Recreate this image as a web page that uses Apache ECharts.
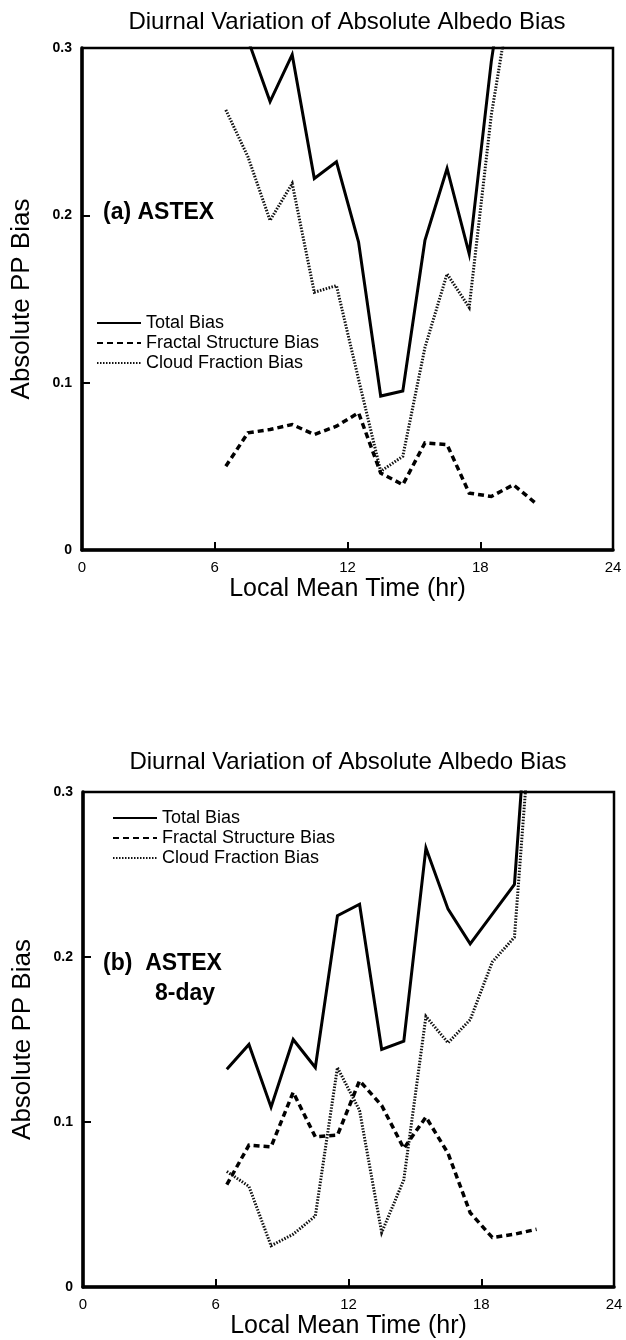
<!DOCTYPE html>
<html>
<head>
<meta charset="utf-8">
<title>Diurnal Variation of Absolute Albedo Bias</title>
<script src="https://cdn.jsdelivr.net/npm/echarts@6/dist/echarts.min.js"></script>
<style>
  html, body { margin: 0; padding: 0; background: #fff; }
  #chart { width: 626px; height: 1340px; }
</style>
</head>
<body>
<div id="chart"></div>
<script>
// local mean time of each sample (hr)
var hours = [6.5, 7.5, 8.5, 9.5, 10.5, 11.5, 12.5, 13.5, 14.5, 15.5, 16.5, 17.5, 18.5, 19.5, 20.5];

// (a) ASTEX
var totalA   = [0.315, 0.305, 0.268, 0.296, 0.222, 0.232, 0.184, 0.092, 0.095, 0.185, 0.228, 0.177, 0.292, 0.380, 0.430];
var fractalA = [0.050, 0.070, 0.072, 0.075, 0.069, 0.074, 0.082, 0.046, 0.039, 0.064, 0.063, 0.034, 0.032, 0.039, 0.028];
var cloudA   = [0.263, 0.235, 0.197, 0.219, 0.154, 0.158, 0.102, 0.047, 0.056, 0.121, 0.165, 0.145, 0.260, 0.340, 0.400];

// (b) ASTEX 8-day
var totalB   = [0.132, 0.147, 0.109, 0.150, 0.133, 0.225, 0.232, 0.144, 0.149, 0.266, 0.229, 0.208, 0.226, 0.244, 0.430];
var fractalB = [0.062, 0.086, 0.085, 0.118, 0.091, 0.092, 0.125, 0.110, 0.084, 0.103, 0.081, 0.045, 0.030, 0.032, 0.035];
var cloudB   = [0.070, 0.061, 0.025, 0.032, 0.043, 0.133, 0.107, 0.033, 0.065, 0.164, 0.148, 0.162, 0.197, 0.212, 0.390];

var xTicks = [0, 6, 12, 18, 24];
var yTicks = [0, 0.1, 0.2, 0.3];
var names = ['Total Bias', 'Fractal Structure Bias', 'Cloud Fraction Bias'];

var FONT = '"Liberation Sans", Arial, Helvetica, sans-serif';

function pairs(ys) {
    return hours.map(function (h, i) { return [h, ys[i]]; });
}

function xAxisFor(idx) {
    return {
        gridIndex: idx,
        type: 'value',
        min: xTicks[0],
        max: xTicks[xTicks.length - 1],
        interval: xTicks[1] - xTicks[0],
        name: 'Local Mean Time (hr)',
        nameLocation: 'middle',
        nameGap: 27,
        nameTextStyle: { fontFamily: FONT, fontSize: 25, color: '#000' },
        axisLine: { lineStyle: { color: '#000', width: 3.5 } },
        axisTick: { inside: true, length: 8, lineStyle: { color: '#000', width: 2 } },
        axisLabel: { fontFamily: FONT, fontSize: 15, color: '#000', margin: 10 },
        splitLine: { show: false }
    };
}

function yAxisFor(idx) {
    return {
        gridIndex: idx,
        type: 'value',
        min: yTicks[0],
        max: yTicks[yTicks.length - 1],
        interval: yTicks[1] - yTicks[0],
        name: 'Absolute PP Bias',
        nameLocation: 'middle',
        nameGap: 47,
        nameTextStyle: { fontFamily: FONT, fontSize: 26, color: '#000' },
        axisLine: { lineStyle: { color: '#000', width: 3.5 } },
        axisTick: { inside: true, length: 8, lineStyle: { color: '#000', width: 2 } },
        axisLabel: {
            fontFamily: FONT, fontSize: 14, fontWeight: 'bold', color: '#000', margin: 10,
            formatter: function (v) { return v === 0 ? '0' : v.toFixed(1); }
        },
        splitLine: { show: false }
    };
}

var styles = [
    { color: '#000', width: 3, type: 'solid' },
    { color: '#000', width: 3.5, type: [6, 4] },
    { color: '#111', width: 3, type: [1.5, 1.5] }
];

function seriesFor(idx, lists) {
    return lists.map(function (ys, k) {
        return {
            name: names[k],
            type: 'line',
            xAxisIndex: idx,
            yAxisIndex: idx,
            data: pairs(ys),
            symbol: 'none',
            clip: true,
            lineStyle: { color: styles[k].color, width: styles[k].width, type: styles[k].type, cap: 'butt', join: 'miter' },
            itemStyle: { color: styles[k].color },
            z: 3 - k
        };
    });
}

function legendFor(left, top) {
    return {
        orient: 'vertical',
        left: left,
        top: top,
        data: names,
        itemWidth: 44,
        itemHeight: 12,
        itemGap: 0,
        selectedMode: false,
        itemStyle: { opacity: 0 },
        textStyle: { fontFamily: FONT, fontSize: 18, color: '#000', lineHeight: 20 }
    };
}

function label(text, x, y, size, weight) {
    return {
        type: 'text',
        style: {
            text: text, x: x, y: y,
            font: weight + ' ' + size + 'px ' + FONT,
            fill: '#000',
            textAlign: 'left',
            textVerticalAlign: 'middle'
        }
    };
}

var chart = echarts.init(document.getElementById('chart'), null, { renderer: 'canvas' });

var option = {
    animation: false,
    backgroundColor: '#fff',
    grid: [
        { left: 82, top: 48, width: 531, height: 502, show: true, borderColor: '#000', borderWidth: 2.5 },
        { left: 83, top: 792, width: 531, height: 495, show: true, borderColor: '#000', borderWidth: 2.5 }
    ],
    xAxis: [xAxisFor(0), xAxisFor(1)],
    yAxis: [yAxisFor(0), yAxisFor(1)],
    legend: [legendFor(91, 308), legendFor(107, 803)],
    series: seriesFor(0, [totalA, fractalA, cloudA]).concat(seriesFor(1, [totalB, fractalB, cloudB])),
    graphic: [
        {
            type: 'text',
            style: {
                text: 'Diurnal Variation of Absolute Albedo Bias', x: 347, y: 22,
                font: '24px ' + FONT, fill: '#000', textAlign: 'center', textVerticalAlign: 'middle'
            }
        },
        {
            type: 'text',
            style: {
                text: 'Diurnal Variation of Absolute Albedo Bias', x: 348, y: 762,
                font: '24px ' + FONT, fill: '#000', textAlign: 'center', textVerticalAlign: 'middle'
            }
        },
        label('(a) ASTEX', 103, 213, 23, 'bold'),
        label('(b)  ASTEX', 103, 964, 23, 'bold'),
        label('8-day', 155, 994, 23, 'bold')
    ]
};

chart.setOption(option);
</script>
</body>
</html>
